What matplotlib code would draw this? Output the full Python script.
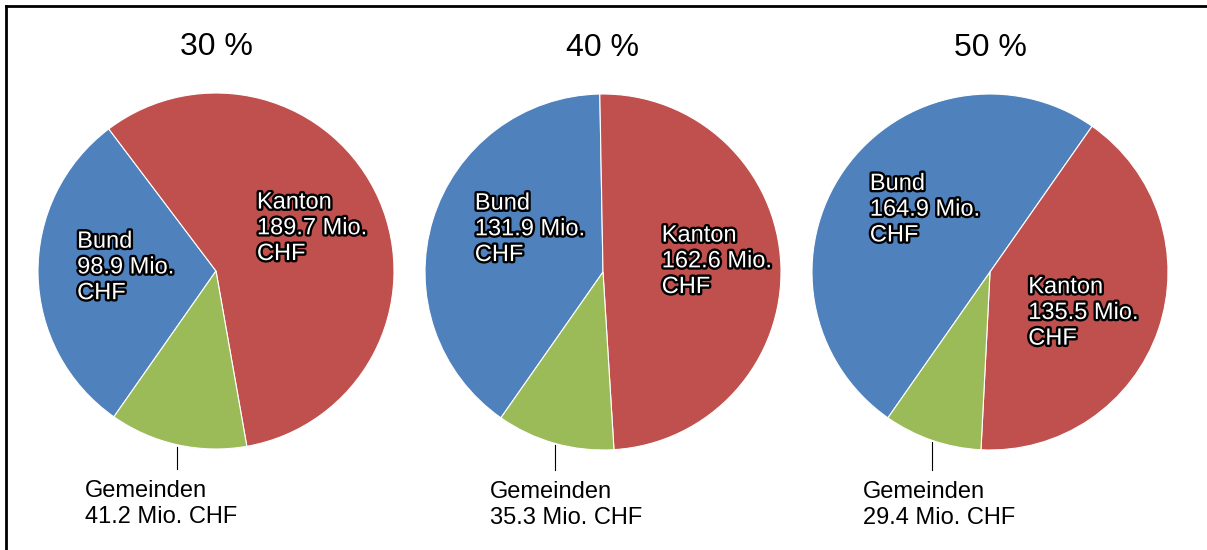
import matplotlib.pyplot as plt
import matplotlib.patheffects as pe
from matplotlib.lines import Line2D
import numpy as np

plt.rcParams['font.family'] = ['Liberation Sans', 'DejaVu Sans']

# Daten
titel = ["30 %", "40 %", "50 %"]
teile = ["Bund", "Kanton", "Gemeinden"]
bund = [98.9, 131.9, 164.9]
kanton = [189.7, 162.6, 135.5]
gemeinden = [41.2, 35.3, 29.4]
farben = ["#4F81BD", "#C0504D", "#9BBB59"]

# Layout (Pixel)
W, H = 1207, 550
R = 178
zentren = [(216, 271), (603, 272), (990, 272)]
# Label-Positionen relativ zum Mittelpunkt (Radius-Einheiten)
pos_bund = [(-0.78, 0.02), (-0.72, 0.24), (-0.675, 0.35)]
pos_kanton = [(0.23, 0.24), (0.33, 0.06), (0.215, -0.23)]
pos_gem = [(-0.735, -1.31), (-0.635, -1.31), (-0.715, -1.31)]

fig = plt.figure(figsize=(W / 100, H / 100), dpi=100)
fig.patch.set_facecolor("white")

rand = [pe.withStroke(linewidth=3.4, foreground="black")]

for i in range(3):
    cx, cy = zentren[i]
    ax = fig.add_axes([(cx - R) / W, (H - cy - R) / H, 2 * R / W, 2 * R / H])
    werte = [bund[i], kanton[i], gemeinden[i]]
    wedges, _ = ax.pie(werte, colors=farben, startangle=235, counterclock=False,
                       radius=1, wedgeprops=dict(edgecolor="white", linewidth=0.8))
    ax.set_xlim(-1, 1)
    ax.set_ylim(-1, 1)
    ax.axis("off")

    ax.text(0, 1.26, titel[i], ha="center", va="center", fontsize=23, clip_on=False)

    bx, by = pos_bund[i]
    ax.text(bx, by, "Bund\n%.1f Mio.\nCHF" % bund[i], color="white", fontsize=17,
            ha="left", va="center", linespacing=1.22, path_effects=rand, clip_on=False)
    kx, ky = pos_kanton[i]
    ax.text(kx, ky, "Kanton\n%.1f Mio.\nCHF" % kanton[i], color="white", fontsize=17,
            ha="left", va="center", linespacing=1.22, path_effects=rand, clip_on=False)

    # Linie zur Gemeinden-Beschriftung
    w = wedges[2]
    mitte = np.deg2rad((w.theta1 + w.theta2) / 2)
    lx = np.cos(mitte)
    ax.plot([lx, lx], [np.sin(mitte) - 0.01, -1.11], color="black", linewidth=0.8, clip_on=False)

    gx, gy = pos_gem[i]
    ax.text(gx, gy, "Gemeinden\n%.1f Mio. CHF" % gemeinden[i], color="black", fontsize=17,
            ha="left", va="center", linespacing=1.2, clip_on=False)

# Rahmen oben und links
fig.add_artist(Line2D([6 / W, 1], [1 - 6 / H, 1 - 6 / H], color="black", linewidth=2))
fig.add_artist(Line2D([6 / W, 6 / W], [0, 1 - 6 / H], color="black", linewidth=2))

fig.savefig("out.png", dpi=100, facecolor="white")
